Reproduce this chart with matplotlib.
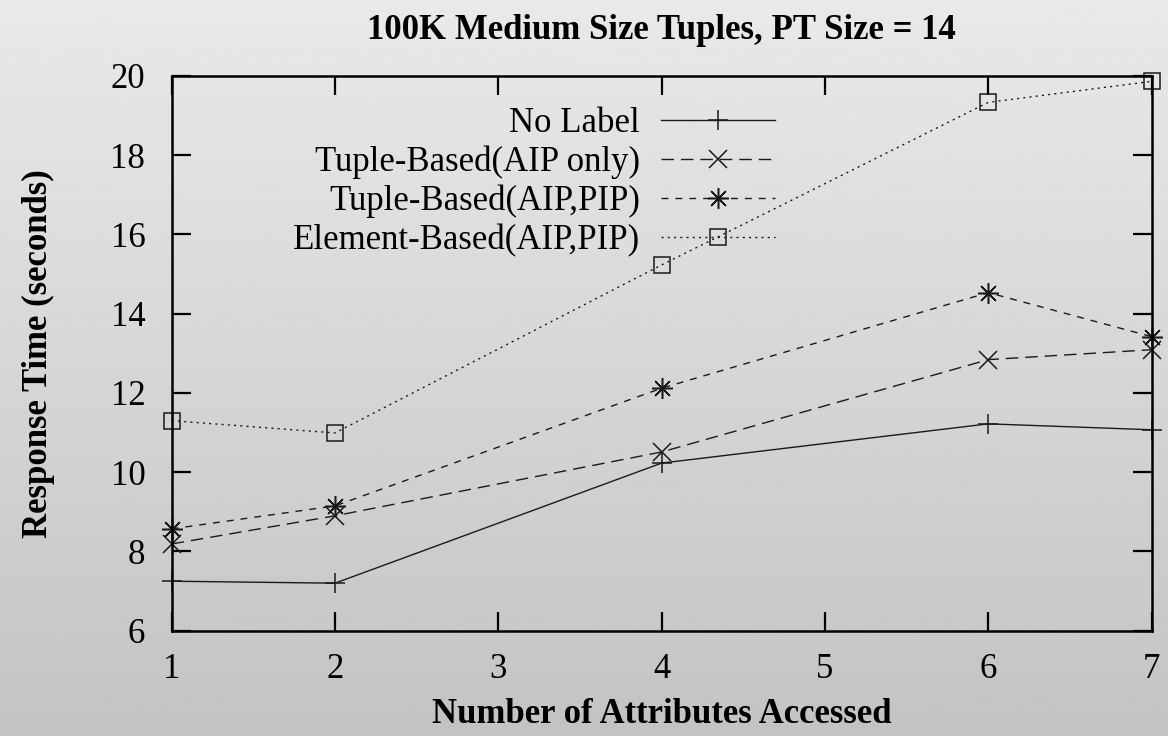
import numpy as np
import matplotlib
matplotlib.use("Agg")
import matplotlib.pyplot as plt

# attributes accessed (x) and response times (seconds)
attrs = [1, 2, 4, 6, 7]
no_label = [7.25, 7.2, 10.23, 11.22, 11.07]
tuple_aip = [8.19, 8.9, 10.51, 12.84, 13.09]
tuple_aip_pip = [8.57, 9.15, 12.12, 14.53, 13.42]
element_aip_pip = [11.3, 10.99, 15.23, 19.33, 19.86]

series_names = ["No Label", "Tuple-Based(AIP only)", "Tuple-Based(AIP,PIP)", "Element-Based(AIP,PIP)"]
x_ticks = [1, 2, 3, 4, 5, 6, 7]
y_ticks = [6, 8, 10, 12, 14, 16, 18, 20]

plt.rcParams['font.family'] = ['Liberation Serif', 'DejaVu Serif']

fig = plt.figure(figsize=(11.68, 7.36), dpi=100)

# grey vertical gradient background
bg = fig.add_axes([0, 0, 1, 1], zorder=-10)
grad = np.linspace(0.915, 0.765, 256).reshape(-1, 1)
bg.imshow(grad, aspect='auto', cmap='gray', vmin=0, vmax=1, extent=[0, 1, 0, 1])
bg.set_axis_off()

ax = fig.add_axes([0.147, 0.143, 0.839, 0.754])
ax.set_facecolor('none')

lc = '#1a1a1a'
styles = [
    dict(linestyle='-', marker='+', markersize=15),
    dict(linestyle=(0, (9, 5)), marker='x', markersize=13),
    dict(linestyle=(0, (5, 5)), marker=(8, 2, 0), markersize=15),
    dict(linestyle=(0, (1.5, 3)), marker='s', markersize=12, markerfacecolor='none'),
]
for ys, name, st in zip([no_label, tuple_aip, tuple_aip_pip, element_aip_pip], series_names, styles):
    ax.plot(attrs, ys, color=lc, linewidth=1.0, markeredgewidth=1.1, label=name,
            clip_on=False, **st)

ax.set_xlim(1, 7)
ax.set_ylim(6, 20)
ax.set_xticks(x_ticks)
ax.set_yticks(y_ticks)
ax.tick_params(direction='in', length=14, width=1.6, labelsize=25,
               top=True, right=True)
ax.tick_params(axis='x', pad=16)
ax.tick_params(axis='y', pad=19)
for sp in ax.spines.values():
    sp.set_linewidth(1.8)

ax.set_xlabel("Number of Attributes Accessed", fontsize=25, fontweight='bold', labelpad=9)
ax.set_ylabel("Response Time (seconds)", fontsize=25, fontweight='bold', labelpad=40)
fig.text(0.566, 0.959, "100K Medium Size Tuples, PT Size = 14", ha='center', va='center',
         fontsize=25, fontweight='bold')

ax.legend(loc='upper right', bbox_to_anchor=(0.648, 1.0), frameon=False, markerfirst=False,
          fontsize=25, handlelength=3.3, handletextpad=0.6, labelspacing=0.16)

fig.savefig("out.png", dpi=100)
